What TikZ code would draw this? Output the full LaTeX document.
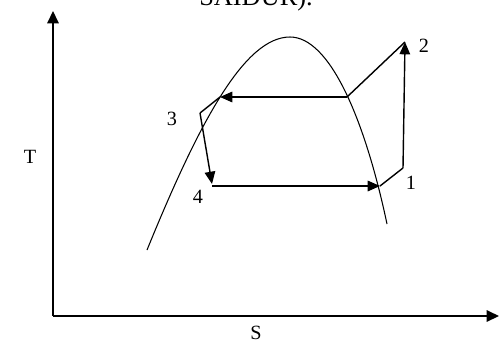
\documentclass[tikz,border=0pt]{standalone}
\usepackage{fontspec}
\setmainfont{Liberation Serif}
\usetikzlibrary{arrows.meta}
\tikzset{
  axis/.style={line width=0.8pt, -{Triangle[length=7pt,width=6.5pt]}},
  flow/.style={line width=0.8pt, -{Triangle[length=7pt,width=6pt]}},
  plain/.style={line width=0.8pt},
  dome/.style={line width=0.6pt},
  lbl/.style={font=\fontsize{11.5}{13}\selectfont, inner sep=0pt}
}

\begin{document}
\begin{tikzpicture}[x=0.02cm, y=-0.02cm]
        \useasboundingbox (0,0) rectangle (499,342);

        % caption line cut off at the top
        \node (title) [anchor=base, inner sep=0pt, font=\fontsize{15}{18}\selectfont] at (256,5) {SAIDUR).};

        % axes
        \coordinate (origin) at (53,316);
        \coordinate (ytop) at (53,11);
        \coordinate (xend) at (499,316);
        \draw [axis] (origin) -- (ytop);
        \draw [axis] (origin) -- (xend);
        \node (tlab) [lbl] at (30,157) {T};
        \node (slab) [lbl] at (256,333) {S};

        % saturation dome
        \coordinate (peak) at (290,37);
        \draw [dome] (147,250) .. controls (200,120) and (245,37) .. (peak)
                     .. controls (330,37) and (365,120) .. (387,224);

        % cycle points
        \coordinate (s1) at (403,168);
        \coordinate (s2) at (405,42);
        \coordinate (sv) at (347,97);
        \coordinate (sl) at (220,97);
        \coordinate (s3) at (200,113);
        \coordinate (s4) at (212,184);
        \coordinate (ex) at (380,186);

        \draw [flow] (s1) -- (s2);
        \draw [plain] (s2) -- (sv);
        \draw [flow] (sv) -- (sl);
        \draw [plain] (sl) -- (s3);
        \draw [flow] (s3) -- (s4);
        \draw [flow] (s4 |- ex) -- (ex);
        \draw [plain] (ex) -- (s1);

        % point labels
        \node (l1) [lbl] at (411,183) {1};
        \node (l2) [lbl] at (424,46) {2};
        \node (l3) [lbl] at (172,119) {3};
        \node (l4) [lbl] at (198,197) {4};

    \end{tikzpicture}
\end{document}
